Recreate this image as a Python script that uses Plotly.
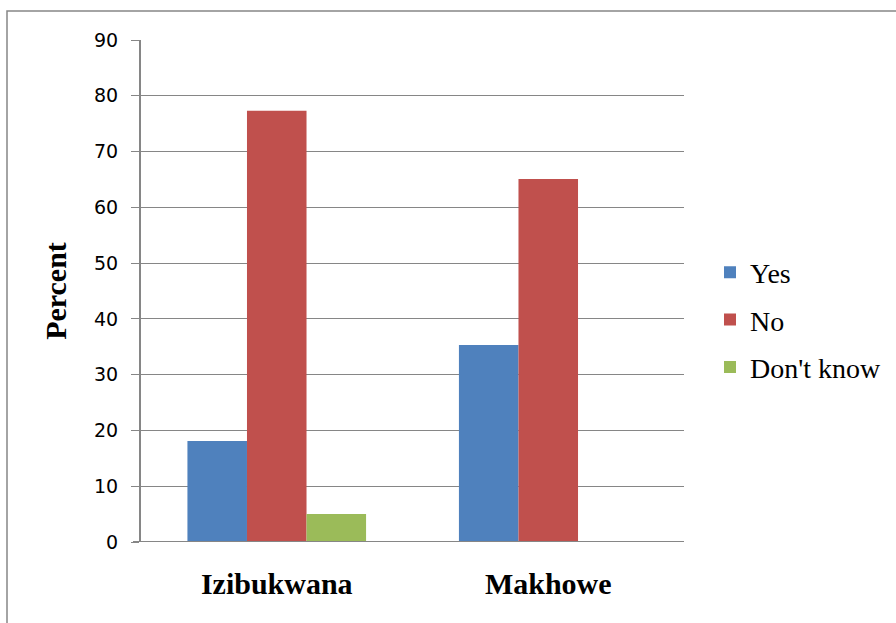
import plotly.graph_objects as go

categories = ["Izibukwana", "Makhowe"]
series_names = ["Yes", "No", "Don't know"]
yes_vals = [18.1, 35.3]
no_vals = [77.3, 65.1]
dk_vals = [5.0, 0]
colors = ["#4F81BD", "#C0504D", "#9BBB59"]
y_ticks = [0, 10, 20, 30, 40, 50, 60, 70, 80, 90]

fig = go.Figure()
for i, (name, vals) in enumerate(zip(series_names, [yes_vals, no_vals, dk_vals])):
    fig.add_trace(go.Bar(x=categories, y=vals, name=name, marker_color=colors[i],
                         marker_line_width=0, legendgroup=name))

W, H = 896, 623
L, R, T, B = 141, 212, 40, 81
pw, ph = W - L - R, H - T - B

def px(x):
    return (x - L) / pw

def py(y):
    return (H - B - y) / ph

fig.update_layout(
    width=W, height=H,
    margin=dict(l=L, r=R, t=T, b=B, autoexpand=False),
    paper_bgcolor="white", plot_bgcolor="white",
    barmode="group", bargap=0.342, bargroupgap=0,
    showlegend=True,
    legend=dict(x=px(710), y=py(320), xanchor="left", yanchor="middle",
                font=dict(family="Liberation Serif", size=28, color="black"),
                traceorder="grouped", tracegroupgap=8, itemwidth=30),
    xaxis=dict(showgrid=False, showline=False, ticks="",
               tickfont=dict(family="Liberation Serif", size=30, color="black", weight="bold"),
               ticklabelstandoff=21),
    yaxis=dict(range=[0, 90], tickvals=y_ticks, showgrid=True, gridcolor="#868686", gridwidth=1.3,
               showline=True, linecolor="#868686", linewidth=2,
               ticks="outside", ticklen=8, tickcolor="#868686", tickwidth=1.3,
               tickfont=dict(family="DejaVu Sans", size=19, color="black"),
               ticklabelstandoff=9, zeroline=False,
               title=dict(text="Percent", font=dict(family="Liberation Serif", size=30, color="black", weight="bold"),
                          standoff=19)),
    shapes=[dict(type="path", xref="paper", yref="paper",
                 path=f"M {px(7)} {py(H)} L {px(7)} {py(11)} L {px(W)} {py(11)}",
                 line=dict(color="#868686", width=1.5))],
)
fig.add_shape(type="line", xref="paper", yref="y", x0=px(133), x1=1, y0=0, y1=0,
              line=dict(color="#868686", width=2), layer="above")

fig.write_html("out.html")
